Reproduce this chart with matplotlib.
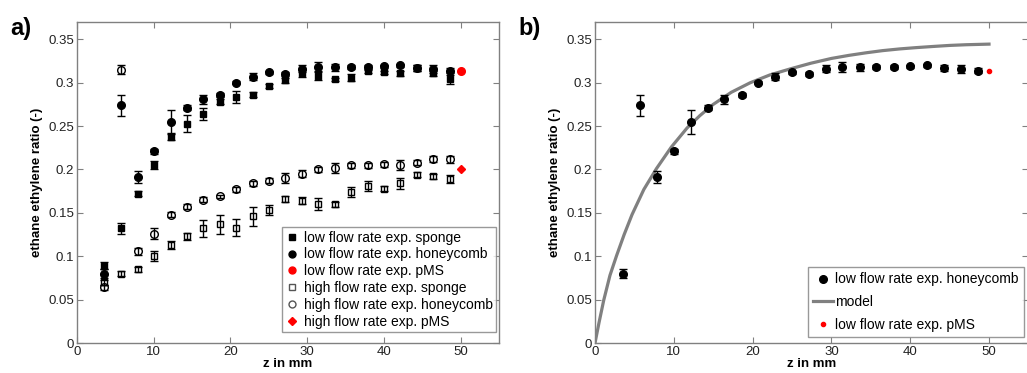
import matplotlib
matplotlib.use("Agg")
import matplotlib.pyplot as plt
from matplotlib.lines import Line2D

plt.rcParams['font.family'] = ['Liberation Sans', 'DejaVu Sans']

# ---- data ----
z = [3.5, 5.7, 7.9, 10.0, 12.2, 14.3, 16.4, 18.6, 20.7, 22.9, 25.0,
     27.1, 29.3, 31.4, 33.6, 35.7, 37.9, 40.0, 42.1, 44.3, 46.4, 48.6]

low_sponge = [0.089, 0.132, 0.172, 0.205, 0.238, 0.253, 0.264, 0.278, 0.284, 0.286, 0.296,
              0.303, 0.311, 0.308, 0.304, 0.306, 0.313, 0.312, 0.311, 0.317, 0.311, 0.304]
low_sponge_err = [0.004, 0.006, 0.003, 0.005, 0.004, 0.010, 0.007, 0.003, 0.007, 0.003, 0.002,
                  0.003, 0.004, 0.005, 0.002, 0.004, 0.002, 0.002, 0.003, 0.003, 0.003, 0.005]

low_honey = [0.080, 0.274, 0.191, 0.221, 0.255, 0.271, 0.281, 0.286, 0.300, 0.307, 0.312,
             0.310, 0.316, 0.318, 0.318, 0.318, 0.318, 0.319, 0.320, 0.317, 0.316, 0.314]
low_honey_err = [0.005, 0.012, 0.007, 0.003, 0.014, 0.003, 0.005, 0.002, 0.002, 0.004, 0.002,
                 0.002, 0.004, 0.006, 0.004, 0.002, 0.002, 0.002, 0.002, 0.003, 0.005, 0.003]

high_sponge = [0.070, 0.080, 0.085, 0.100, 0.113, 0.123, 0.132, 0.137, 0.133, 0.146, 0.153,
               0.166, 0.164, 0.160, 0.160, 0.174, 0.181, 0.178, 0.184, 0.194, 0.192, 0.189]
high_sponge_err = [0.003, 0.003, 0.003, 0.006, 0.005, 0.004, 0.010, 0.011, 0.010, 0.011, 0.006,
                   0.003, 0.004, 0.007, 0.003, 0.006, 0.006, 0.003, 0.006, 0.003, 0.003, 0.005]

high_honey = [0.064, 0.315, 0.106, 0.126, 0.148, 0.157, 0.165, 0.169, 0.177, 0.184, 0.187,
              0.190, 0.195, 0.200, 0.202, 0.205, 0.205, 0.206, 0.205, 0.208, 0.212, 0.212]
high_honey_err = [0.003, 0.005, 0.004, 0.006, 0.003, 0.003, 0.003, 0.002, 0.003, 0.003, 0.003,
                  0.006, 0.004, 0.003, 0.006, 0.003, 0.003, 0.003, 0.006, 0.003, 0.003, 0.004]

pms_z = [50.0]
low_pms = [0.313]
high_pms = [0.200]

model_z = [0, 0.5, 1.1, 1.9, 2.75, 3.7, 4.7, 6.2, 7.8, 9.7, 11.7, 13.3, 15.0, 17.3,
           19.7, 22.2, 24.8, 27.4, 30.0, 32.2, 34.4, 36.5, 38.7, 40.8, 42.9, 45.0, 47.1, 50.0]
model_y = [0, 0.023, 0.049, 0.078, 0.101, 0.125, 0.148, 0.177, 0.201, 0.226, 0.248, 0.262,
           0.275, 0.289, 0.300, 0.309, 0.316, 0.3225, 0.328, 0.3315, 0.3345, 0.337, 0.339,
           0.3405, 0.3418, 0.343, 0.3438, 0.3445]

xticks = [0, 10, 20, 30, 40, 50]
yticks = [0, 0.05, 0.1, 0.15, 0.2, 0.25, 0.3, 0.35]
ytick_labels = ['0', '0.05', '0.1', '0.15', '0.2', '0.25', '0.3', '0.35']

# ---- figure ----
W, H = 1027, 373
fig = plt.figure(figsize=(W / 100, H / 100), dpi=100)

def px_axes(x0, x1, y_top, y_bot):
    return [x0 / W, (H - y_bot) / H, (x1 - x0) / W, (y_bot - y_top) / H]

A_X0, A_X1 = 77, 499
B_X0, B_X1 = 595, 1028.4
Y_TOP, Y_BOT = 22, 343
axa = fig.add_axes(px_axes(A_X0, A_X1, Y_TOP, Y_BOT))
axb = fig.add_axes(px_axes(B_X0, B_X1, Y_TOP, Y_BOT))

spine_col = '#808080'
for ax in (axa, axb):
    ax.set_xlim(0, 55)
    ax.set_ylim(0, 0.37)
    ax.set_xticks(xticks)
    ax.set_xticklabels([str(t) for t in xticks])
    ax.set_yticks(yticks)
    ax.set_yticklabels(ytick_labels)
    ax.tick_params(direction='in', top=True, right=True, length=4, width=0.8,
                   color=spine_col, labelsize=9.5, labelcolor='#222222', pad=2)
    for s in ax.spines.values():
        s.set_color(spine_col)
        s.set_linewidth(1.0)
    ax.set_xlabel('z in mm', fontsize=9.5, fontweight='bold', labelpad=0)
    ax.set_ylabel('ethane ethylene ratio (-)', fontsize=9.5, fontweight='bold', labelpad=4)

ekw = dict(ecolor='black', elinewidth=1.0, capsize=3, capthick=1.0, linestyle='none')

# panel a
axa.errorbar(z, low_sponge, yerr=low_sponge_err, marker='s', ms=5, mfc='black', mec='black', **ekw)
axa.errorbar(z, low_honey, yerr=low_honey_err, marker='o', ms=5.5, mfc='black', mec='black', **ekw)
axa.errorbar(z, high_sponge, yerr=high_sponge_err, marker='s', ms=5, mfc='none', mec='black', mew=1.0, **ekw)
axa.errorbar(z, high_honey, yerr=high_honey_err, marker='o', ms=5.5, mfc='none', mec='black', mew=1.0, **ekw)
axa.plot(pms_z, low_pms, linestyle='none', marker='o', ms=5.5, color='red')
axa.plot(pms_z, high_pms, linestyle='none', marker='D', ms=4.5, color='red')

handles_a = [
    Line2D([], [], ls='none', marker='s', ms=4.5, mfc='black', mec='black'),
    Line2D([], [], ls='none', marker='o', ms=5, mfc='black', mec='black'),
    Line2D([], [], ls='none', marker='o', ms=5, mfc='red', mec='red'),
    Line2D([], [], ls='none', marker='s', ms=4.5, mfc='none', mec='#555555'),
    Line2D([], [], ls='none', marker='o', ms=5, mfc='none', mec='#555555'),
    Line2D([], [], ls='none', marker='D', ms=4.5, mfc='red', mec='red'),
]
labels_a = ['low flow rate exp. sponge', 'low flow rate exp. honeycomb', 'low flow rate exp. pMS',
            'high flow rate exp. sponge', 'high flow rate exp. honeycomb', 'high flow rate exp. pMS']
leg = axa.legend(handles_a, labels_a, loc='lower left',
                 bbox_to_anchor=((282 - A_X0) / (A_X1 - A_X0), (Y_BOT - 332) / (Y_BOT - Y_TOP)),
                 fontsize=10, frameon=True, fancybox=False, edgecolor='#808080',
                 handlelength=1.0, handletextpad=0.33, labelspacing=0.2, borderpad=0.25,
                 borderaxespad=0)
leg.get_frame().set_linewidth(1.0)

# panel b
axb.plot(model_z, model_y, color='#808080', lw=2.3, zorder=2)
axb.errorbar(z, low_honey, yerr=low_honey_err, marker='o', ms=5.5, mfc='black', mec='black', zorder=3, **ekw)
axb.plot(pms_z, low_pms, linestyle='none', marker='o', ms=3, color='red', zorder=3)

handles_b = [
    Line2D([], [], ls='none', marker='o', ms=5.5, mfc='black', mec='black'),
    Line2D([], [], color='#808080', lw=2.3),
    Line2D([], [], ls='none', marker='o', ms=3, mfc='red', mec='red'),
]
labels_b = ['low flow rate exp. honeycomb', 'model', 'low flow rate exp. pMS']
legb = axb.legend(handles_b, labels_b, loc='lower left',
                  bbox_to_anchor=((808 - B_X0) / (B_X1 - B_X0), (Y_BOT - 337) / (Y_BOT - Y_TOP)),
                  fontsize=10, frameon=True, fancybox=False, edgecolor='#808080',
                  handlelength=1.4, handletextpad=0.15, labelspacing=0.62, borderpad=0.38,
                  borderaxespad=0)
legb.get_frame().set_linewidth(1.0)

fig.text(10 / W, 1 - 28 / H, 'a)', fontsize=17, fontweight='bold', va='center', ha='left')
fig.text(518 / W, 1 - 29 / H, 'b)', fontsize=17, fontweight='bold', va='center', ha='left')

fig.savefig('out.png', dpi=100)
